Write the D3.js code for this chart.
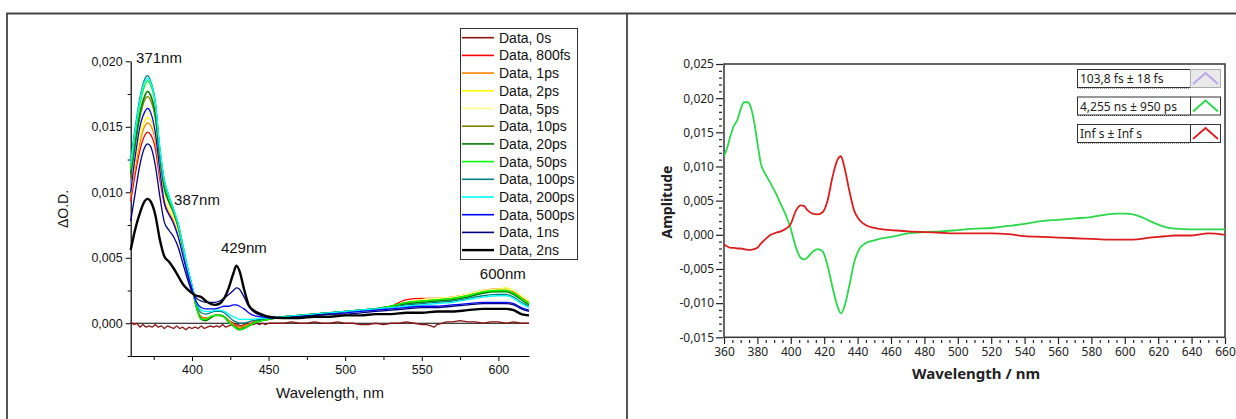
<!DOCTYPE html>
<html>
<head>
<meta charset="utf-8">
<script src="https://cdn.jsdelivr.net/npm/d3@7"></script>
<style>
  body { margin: 0; background: #fff; }
  svg { display: block; }
  .left text { font-family: "Liberation Sans", Arial, sans-serif; fill: #111; }
  .right text { font-family: "Noto Sans", "Open Sans", sans-serif; fill: #222; }
</style>
</head>
<body>
<svg id="chart" width="1236" height="419"></svg>
<script>
// ---- left panel: transient spectra (delta OD) ----
var wavelengths = [360,363,366,369,371,373,376,379,382,385,388,391,394,397,400,403,406,409,412,415,418,421,424,427,429,431,434,437,440,445,450,460,470,480,490,500,510,520,530,540,550,560,570,580,590,600,605,610,615,620];

var od800fs = [.0093,.0114,.0132,.0143,.0146,.0144,.0134,.0110,.0091,.0083,.0078,.0068,.0054,.0038,.0026,.0012,.0005,.0004,.0005,.0006,.0006,.0005,.0002,.0000,-.0002,-.0003,-.0002,-.0001,.0001,.0002,.0003,.0005,.0006,.0007,.0008,.0009,.0010,.0011,.0013,.0018,.0019,.0019,.0020,.0022,.0025,.0026,.0026,.0024,.0019,.0016];
var od1ps = [.0097,.0119,.0138,.0150,.0153,.0151,.0140,.0114,.0093,.0085,.0079,.0069,.0054,.0039,.0026,.0012,.0005,.0004,.0005,.0006,.0006,.0005,.0002,-.0001,-.0003,-.0003,-.0002,-.0001,.0001,.0002,.0003,.0005,.0006,.0007,.0008,.0009,.0010,.0011,.0013,.0016,.0018,.0019,.0020,.0022,.0025,.0026,.0026,.0024,.0020,.0016];
var od2ps = [.0100,.0123,.0142,.0154,.0157,.0155,.0143,.0116,.0095,.0086,.0080,.0070,.0055,.0039,.0027,.0012,.0004,.0003,.0005,.0006,.0006,.0005,.0001,-.0002,-.0004,-.0004,-.0003,-.0002,.0000,.0002,.0003,.0005,.0006,.0007,.0008,.0009,.0010,.0011,.0013,.0016,.0018,.0019,.0020,.0022,.0025,.0026,.0027,.0025,.0021,.0017];
var od5ps = [.0103,.0126,.0146,.0158,.0161,.0159,.0147,.0119,.0097,.0088,.0081,.0071,.0056,.0040,.0027,.0012,.0004,.0003,.0005,.0006,.0006,.0005,.0001,-.0002,-.0003,-.0004,-.0003,-.0002,.0000,.0002,.0003,.0005,.0006,.0007,.0008,.0009,.0010,.0011,.0013,.0016,.0018,.0019,.0020,.0022,.0025,.0026,.0026,.0025,.0021,.0017];
var od10ps = [.0111,.0136,.0157,.0170,.0173,.0170,.0157,.0126,.0102,.0092,.0084,.0073,.0058,.0041,.0028,.0012,.0004,.0003,.0004,.0006,.0006,.0005,.0001,-.0002,-.0003,-.0004,-.0003,-.0002,.0000,.0002,.0003,.0005,.0006,.0007,.0008,.0009,.0010,.0011,.0013,.0016,.0017,.0018,.0019,.0021,.0024,.0025,.0025,.0023,.0019,.0015];
var od20ps = [.0114,.0139,.0160,.0173,.0177,.0174,.0160,.0128,.0104,.0093,.0085,.0074,.0058,.0042,.0028,.0012,.0003,.0002,.0004,.0006,.0006,.0005,.0001,-.0002,-.0004,-.0005,-.0004,-.0002,.0000,.0002,.0003,.0005,.0006,.0007,.0008,.0009,.0010,.0011,.0013,.0015,.0016,.0017,.0018,.0020,.0023,.0024,.0024,.0022,.0018,.0014];
var od50ps = [.0118,.0145,.0167,.0181,.0185,.0182,.0167,.0132,.0107,.0095,.0086,.0075,.0059,.0042,.0028,.0012,.0003,.0003,.0005,.0006,.0006,.0005,.0001,-.0002,-.0004,-.0005,-.0004,-.0002,.0000,.0002,.0003,.0005,.0006,.0007,.0008,.0009,.0010,.0011,.0013,.0016,.0017,.0018,.0019,.0021,.0024,.0025,.0025,.0023,.0019,.0015];
var od100ps = [.0124,.0150,.0172,.0186,.0189,.0185,.0170,.0134,.0109,.0097,.0087,.0076,.0060,.0043,.0029,.0015,.0008,.0007,.0008,.0009,.0009,.0008,.0005,.0002,.0001,.0000,.0000,.0001,.0002,.0003,.0004,.0005,.0006,.0007,.0008,.0009,.0010,.0011,.0012,.0014,.0015,.0016,.0017,.0019,.0021,.0022,.0022,.0020,.0016,.0013];
var od200ps = [.0122,.0148,.0170,.0184,.0187,.0184,.0169,.0134,.0109,.0097,.0087,.0076,.0060,.0043,.0029,.0016,.0010,.0009,.0009,.0010,.0010,.0009,.0007,.0005,.0004,.0003,.0003,.0003,.0003,.0004,.0004,.0005,.0006,.0007,.0008,.0009,.0010,.0011,.0012,.0013,.0014,.0015,.0016,.0018,.0020,.0021,.0021,.0019,.0015,.0012];
var od500ps = [.0100,.0128,.0150,.0161,.0164,.0161,.0146,.0117,.0092,.0083,.0076,.0066,.0052,.0038,.0026,.0016,.0012,.0011,.0011,.0011,.0012,.0013,.0013,.0014,.0014,.0013,.0011,.0008,.0006,.0005,.0004,.0004,.0005,.0006,.0007,.0008,.0009,.0010,.0011,.0012,.0013,.0013,.0014,.0015,.0016,.0016,.0016,.0015,.0012,.0010];
var od1ns = [.0078,.0100,.0121,.0134,.0137,.0135,.0121,.0097,.0077,.0071,.0066,.0058,.0046,.0034,.0024,.0019,.0017,.0016,.0016,.0016,.0017,.0019,.0022,.0025,.0027,.0026,.0020,.0013,.0009,.0006,.0005,.0004,.0005,.0006,.0007,.0007,.0008,.0009,.0010,.0011,.0012,.0012,.0013,.0014,.0015,.0015,.0015,.0014,.0011,.0009];
var od2ns = [.0056,.0072,.0084,.0093,.0095,.0093,.0083,.0064,.0051,.0047,.0042,.0036,.0030,.0026,.0023,.0021,.0020,.0017,.0015,.0014,.0015,.0019,.0027,.0038,.0044,.0040,.0026,.0014,.0010,.0007,.0005,.0004,.0004,.0005,.0005,.0006,.0006,.0007,.0007,.0008,.0008,.0009,.0009,.0010,.0011,.0011,.0011,.0010,.0007,.0006];

// the 0s trace is noisy, so it gets its own denser sampling
var wavelengths0s = [360,362,364,366,368,370,372,374,376,378,380,382,384,386,388,390,392,394,396,398,400,402,404,406,408,410,412,414,416,418,420,422,424,426,428,430,432,434,436,438,440,442,444,446,448,450,455,460,465,470,475,480,485,490,495,500,505,510,515,520,525,530,535,540,545,550,553,556,558,560,563,566,570,575,580,585,590,595,600,605,610,615,620];
var od0s = [.0001,-.0001,.0000,-.0003,-.0001,-.0003,-.0002,-.0003,-.0001,-.0003,-.0002,-.0004,-.0002,-.0003,-.0004,-.0002,-.0004,-.0003,-.0005,-.0003,-.0004,-.0003,-.0004,-.0002,-.0004,-.0003,-.0002,-.0003,-.0002,-.0003,-.0001,-.0003,-.0002,-.0001,-.0002,-.0001,-.0002,-.0001,.0000,-.0001,-.0001,.0000,-.0001,.0000,-.0001,.0000,.0000,.0000,.0001,.0000,.0000,.0001,.0000,.0000,.0001,.0000,.0000,-.0001,-.0001,.0000,-.0001,.0000,.0000,.0001,.0000,-.0001,-.0001,-.0002,-.0003,-.0001,.0000,.0001,.0001,.0002,.0001,.0001,.0000,.0001,.0001,.0000,.0001,.0000,.0000];

var seriesNames = ["Data, 0s","Data, 800fs","Data, 1ps","Data, 2ps","Data, 5ps","Data, 10ps","Data, 20ps","Data, 50ps","Data, 100ps","Data, 200ps","Data, 500ps","Data, 1ns","Data, 2ns"];
var seriesColors = ["#8b1414","#ff0000","#ff8000","#ffff00","#ffff90","#808000","#008000","#00ff00","#008080","#00ffff","#0000ff","#000080","#000000"];
var seriesValues = [od0s, od800fs, od1ps, od2ps, od5ps, od10ps, od20ps, od50ps, od100ps, od200ps, od500ps, od1ns, od2ns];

// peak labels: wavelength, height, and horizontal nudge of the label start
var peakLabels = ["371nm","387nm","429nm","600nm"];
var peakLabelAt = [[371, 0.0199], [387, 0.0090], [429, 0.0054], [600, 0.0034]];
var peakLabelDx = [-11.5, 2, -15.5, -18.5];

var leftYTicks = [0, 0.005, 0.010, 0.015, 0.020];
var leftYMinor = [-0.0025, 0.0025, 0.0075, 0.0125, 0.0175];
var leftXTicks = [400, 450, 500, 550, 600];
var leftXMinor = [375, 425, 475, 525, 575];

// ---- right panel: decay associated amplitudes ----
var ampWl = [360,362,364,366,368,370,372,374,376,378,380,382,385,388,391,394,397,400,403,406,408,410,413,416,419,422,425,428,430,432,435,438,441,445,450,455,460,470,480,490,500,510,520,530,540,550,560,570,580,590,595,600,605,610,615,620,625,630,640,650,660];
var ampLong = [.0115,.0128,.0146,.0160,.0168,.0184,.0194,.0194,.0187,.0166,.0135,.0105,.0088,.0075,.0061,.0045,.0029,.0009,-.0018,-.0034,-.0036,-.0033,-.0025,-.0021,-.0024,-.0045,-.0077,-.0105,-.0115,-.0106,-.0075,-.0040,-.0021,-.0012,-.0008,-.0005,-.0003,.0002,.0004,.0005,.0007,.0009,.0010,.0013,.0016,.0020,.0022,.0024,.0026,.0030,.0031,.0031,.0030,.0026,.0020,.0015,.0011,.0009,.0008,.0008,.0008];
var ampInf = [-.0014,-.0017,-.0019,-.0019,-.0020,-.0020,-.0021,-.0022,-.0022,-.0021,-.0019,-.0013,-.0006,.0000,.0003,.0005,.0009,.0016,.0035,.0043,.0042,.0036,.0031,.0030,.0033,.0050,.0085,.0110,.0115,.0100,.0065,.0035,.0022,.0014,.0010,.0008,.0007,.0005,.0004,.0003,.0002,.0002,.0002,.0001,-.0002,-.0003,-.0004,-.0005,-.0006,-.0007,-.0007,-.0007,-.0007,-.0006,-.0004,-.0003,-.0002,-.0001,-.0001,.0002,.0000];

var ampNames = ["103,8 fs \u00b1 18 fs", "4,255 ns \u00b1 950 ps", "Inf s \u00b1 Inf s"];
var ampColors = ["#b9a4e6", "#2ad84a", "#dd1c1c"];

var rightYTicks = [-0.015, -0.010, -0.005, 0, 0.005, 0.010, 0.015, 0.020, 0.025];
var rightXTicks = [360,380,400,420,440,460,480,500,520,540,560,580,600,620,640,660];

var svg = d3.select("#chart");
var comma = d3.formatLocale({decimal: ",", thousands: ".", grouping: [3], currency: ["", ""], minus: "-"}).format(".3f");

// outer frame of the figure
svg.append("path")
    .attr("d", "M7,419V13.5H1236M627,13.5V419")
    .attr("fill", "none")
    .attr("stroke", "#444")
    .attr("stroke-width", 1.8);

// ===================== left =====================
var left = svg.append("g").attr("class", "left");
var x = d3.scaleLinear().domain([360, 620]).range([130.7, 529]);
var y = d3.scaleLinear().domain([-0.0025, 0.020]).range([356, 61.3]);

function styleAxis(g, fs) {
    g.select(".domain").attr("stroke", "#000").attr("stroke-width", 1.2);
    g.selectAll(".tick line").attr("stroke", "#000").attr("stroke-width", 1);
    g.selectAll(".tick text").attr("font-size", fs).attr("fill", null);
}

var yAxisL = left.append("g").attr("transform", "translate(130.7,0)")
    .call(d3.axisLeft(y).tickValues(leftYTicks).tickSize(5).tickSizeOuter(0).tickPadding(3).tickFormat(comma));
styleAxis(yAxisL, "12.5px");
left.append("g").attr("transform", "translate(130.7,0)")
    .call(d3.axisLeft(y).tickValues(leftYMinor).tickSize(3).tickFormat(""))
    .call(function(g){ g.select(".domain").remove(); g.selectAll("line").attr("stroke", "#000"); });

var xAxisL = left.append("g").attr("transform", "translate(0,356)")
    .call(d3.axisBottom(x).tickValues(leftXTicks).tickSize(5).tickSizeOuter(0).tickPadding(4));
styleAxis(xAxisL, "12.5px");
left.append("g").attr("transform", "translate(0,356)")
    .call(d3.axisBottom(x).tickValues(leftXMinor).tickSize(4).tickFormat(""))
    .call(function(g){ g.select(".domain").remove(); g.selectAll("line").attr("stroke", "#000"); });

// zero line
left.append("line")
    .attr("x1", x(360)).attr("x2", x(620))
    .attr("y1", y(0)).attr("y2", y(0))
    .attr("stroke", "#000").attr("stroke-width", 1);

var lineL = d3.line().curve(d3.curveMonotoneX);
seriesValues.forEach(function(vals, i) {
    var xs = i === 0 ? wavelengths0s : wavelengths;
    var pts = vals.map(function(v, j){ return [x(xs[j]), y(v)]; });
    left.append("path")
        .attr("d", i === 0 ? d3.line()(pts) : lineL(pts))
        .attr("fill", "none")
        .attr("stroke", seriesColors[i])
        .attr("stroke-width", i === 12 ? 2.4 : (i === 6 ? 1.6 : 1.3))
        .attr("stroke-linejoin", "round");
});

// peak annotations
peakLabels.forEach(function(t, i) {
    left.append("text")
        .attr("x", x(peakLabelAt[i][0]) + peakLabelDx[i])
        .attr("y", y(peakLabelAt[i][1]))
        .attr("font-size", "15px")
        .text(t);
});

left.append("text")
    .attr("x", 330).attr("y", 398)
    .attr("text-anchor", "middle")
    .attr("font-size", "15px")
    .text("Wavelength, nm");

left.append("text")
    .attr("transform", "translate(68,209) rotate(-90)")
    .attr("text-anchor", "middle")
    .attr("font-size", "14px")
    .text("\u0394O.D.");

// legend
var legL = left.append("g");
legL.append("rect")
    .attr("x", 460.5).attr("y", 28.5).attr("width", 117).attr("height", 231)
    .attr("fill", "#fff").attr("stroke", "#333").attr("stroke-width", 1);
seriesNames.forEach(function(name, i) {
    var cy = 37.7 + i * 17.7;
    legL.append("line")
        .attr("x1", 462).attr("x2", 494).attr("y1", cy).attr("y2", cy)
        .attr("stroke", seriesColors[i])
        .attr("stroke-width", i === 12 ? 2.4 : 1.6);
    legL.append("text")
        .attr("x", 499).attr("y", cy + 5)
        .attr("font-size", "14px")
        .text(name);
});

// ===================== right =====================
var right = svg.append("g").attr("class", "right");
var xR = d3.scaleLinear().domain([360, 660]).range([724, 1225]);
var yR = d3.scaleLinear().domain([-0.015, 0.025]).range([337.3, 64]);

right.append("clipPath").attr("id", "clipR")
    .append("rect").attr("x", 724).attr("y", 64).attr("width", 501).attr("height", 273.3);

var yAxisR = right.append("g").attr("transform", "translate(723,0)")
    .call(d3.axisLeft(yR).tickValues(rightYTicks).tickSize(7).tickSizeOuter(0).tickPadding(2).tickFormat(comma));
yAxisR.select(".domain").remove();
yAxisR.selectAll(".tick line").attr("stroke", "#222").attr("stroke-width", 1.2);
yAxisR.selectAll(".tick text").attr("font-size", "12px").attr("fill", null);

var yMinorR = d3.range(-15, 26).filter(function(i){ return i % 5 !== 0; }).map(function(i){ return i / 1000; });
right.append("g").attr("transform", "translate(722,0)")
    .call(d3.axisLeft(yR).tickValues(yMinorR).tickSize(3).tickFormat(""))
    .call(function(g){ g.select(".domain").remove(); g.selectAll("line").attr("stroke", "#222").attr("stroke-width", 1.2); });

var xAxisR = right.append("g").attr("transform", "translate(0,338)")
    .call(d3.axisBottom(xR).tickValues(rightXTicks).tickSize(6).tickSizeOuter(0).tickPadding(3));
xAxisR.select(".domain").remove();
xAxisR.selectAll(".tick line").attr("stroke", "#222").attr("stroke-width", 1.2);
xAxisR.selectAll(".tick text").attr("font-size", "12px").attr("fill", null);

var xMinorR = d3.range(360, 661, 5).filter(function(v){ return v % 20 !== 0; });
right.append("g").attr("transform", "translate(0,340)")
    .call(d3.axisBottom(xR).tickValues(xMinorR).tickSize(3).tickFormat(""))
    .call(function(g){ g.select(".domain").remove(); g.selectAll("line").attr("stroke", "#222").attr("stroke-width", 1.2); });

// plot box
right.append("rect")
    .attr("x", 724).attr("y", 64).attr("width", 501).attr("height", 273.3)
    .attr("fill", "none").attr("stroke", "#333").attr("stroke-width", 1.5);

var lineR = d3.line()
    .x(function(d){ return xR(d[0]); })
    .y(function(d){ return yR(d[1]); })
    .curve(d3.curveMonotoneX);

[ampLong, ampInf].forEach(function(vals, i) {
    right.append("path")
        .attr("clip-path", "url(#clipR)")
        .attr("d", lineR(vals.map(function(v, j){ return [ampWl[j], v]; })))
        .attr("fill", "none")
        .attr("stroke", ampColors[i + 1])
        .attr("stroke-width", 1.8);
});

right.append("text")
    .attr("x", 976).attr("y", 379)
    .attr("text-anchor", "middle")
    .attr("font-size", "15px").attr("font-weight", "bold")
    .text("Wavelength / nm");

right.append("text")
    .attr("transform", "translate(672,202) rotate(-90)")
    .attr("text-anchor", "middle")
    .attr("font-size", "14px").attr("font-weight", "bold")
    .text("Amplitude");

// legend boxes
ampNames.forEach(function(name, i) {
    var top = 69 + i * 27.5;
    var g = right.append("g");
    g.append("rect")
        .attr("x", 1077.5).attr("y", top + 0.5).attr("width", 113).attr("height", 18)
        .attr("fill", "#fff").attr("stroke", "#333").attr("stroke-width", 1);
    g.append("line")
        .attr("x1", 1078).attr("x2", 1190).attr("y1", top + 19).attr("y2", top + 19)
        .attr("stroke", "#333").attr("stroke-dasharray", "1,1");
    g.append("rect")
        .attr("x", 1190.5).attr("y", top + 0.5).attr("width", 30).attr("height", 18)
        .attr("fill", i === 0 ? "#e9e9e9" : "#fff")
        .attr("stroke", i === 0 ? "#aaa" : "#333").attr("stroke-width", 1);
    g.append("path")
        .attr("d", "M" + 1193 + "," + (top + 15) + "L" + 1205.5 + "," + (top + 4) + "L" + 1218 + "," + (top + 15))
        .attr("fill", "none").attr("stroke", ampColors[i]).attr("stroke-width", 1.8);
    g.append("text")
        .attr("x", 1080).attr("y", top + 14)
        .attr("font-size", "12px")
        .text(name);
});
</script>
</body>
</html>
